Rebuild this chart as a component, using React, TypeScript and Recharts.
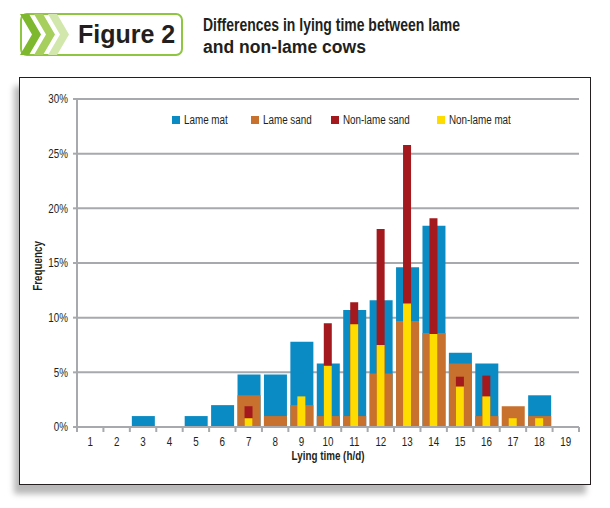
import React from 'react';
import { BarChart, Bar, XAxis, YAxis, CartesianGrid, Legend } from 'recharts';

// ---- Data ----
const hours = [1, 2, 3, 4, 5, 6, 7, 8, 9, 10, 11, 12, 13, 14, 15, 16, 17, 18, 19];
const lameMat = [0, 0, 1.0, 0, 1.0, 2.0, 4.8, 4.8, 7.8, 5.8, 10.7, 11.6, 14.6, 18.4, 6.8, 5.8, 0, 2.9, 0];
const lameSand = [0, 0, 0, 0, 0, 0, 2.9, 1.0, 2.0, 1.0, 1.0, 4.9, 9.7, 8.6, 5.8, 1.0, 1.9, 1.0, 0];
const nonLameSand = [0, 0, 0, 0, 0, 0, 1.9, 0, 0, 9.5, 11.4, 18.1, 25.8, 19.1, 4.6, 4.7, 0, 0, 0];
const nonLameMat = [0, 0, 0, 0, 0, 0, 0.8, 0, 2.8, 5.6, 9.4, 7.5, 11.3, 8.5, 3.7, 2.8, 0.8, 0.8, 0];
const yTicks = [0, 5, 10, 15, 20, 25, 30];

const seriesNames = ['Lame mat', 'Lame sand', 'Non-lame sand', 'Non-lame mat'];
const seriesKeys = ['lameMat', 'lameSand', 'nonLameSand', 'nonLameMat'];
const seriesColors = ['#0b8bc3', '#c8712e', '#a3191e', '#ffdc00'];

const data = hours.map((h, i) => ({
  x: h,
  lameMat: lameMat[i],
  lameSand: lameSand[i],
  nonLameSand: nonLameSand[i],
  nonLameMat: nonLameMat[i],
}));

// ---- Layout / style ----
const W = 610;
const H = 508;
const M_TOP = 99;
const M_RIGHT = 31;
const Y_AXIS_W = 77;
const X_AXIS_H = 30;
const M_BOTTOM = 51;
const PLOT_W = W - Y_AXIS_W - M_RIGHT;
const BAND = PLOT_W / hours.length;
const GRAY = '#a7a9ac';
const TEXT = '#231f20';
const FONT = "'Liberation Sans', Arial, sans-serif";
const SQUEEZE = 0.82;
const TICK_SIZE = 5;
const TICK_MARGIN = 5;

const barSizes = [23, 23, 8, 8];
const axisIds = [0, 'b', 'c', 'd'];
const legendLefts = [172, 251, 331, 437];

function Narrow(props: { x: number; y: number; anchor: string; bold?: boolean; size?: number; rotate?: number; dy?: string; children: any }) {
  const { x, y, anchor, bold, size = 12, rotate = 0, dy = '0', children } = props;
  return (
    <g transform={`translate(${x},${y}) rotate(${rotate}) scale(${SQUEEZE},1)`}>
      <text x={0} y={0} dy={dy} textAnchor={anchor} fill={TEXT} fontSize={size} fontFamily={FONT} fontWeight={bold ? 'bold' : 'normal'}>
        {children}
      </text>
    </g>
  );
}

function XTick(props: any) {
  const { x, y, payload, index } = props;
  const axisY = y - TICK_SIZE - TICK_MARGIN;
  return (
    <g>
      <line x1={x - BAND / 2} x2={x - BAND / 2} y1={axisY} y2={axisY + TICK_SIZE} stroke={GRAY} strokeWidth={2} />
      {index === hours.length - 1 && (
        <line x1={x + BAND / 2} x2={x + BAND / 2} y1={axisY} y2={axisY + TICK_SIZE} stroke={GRAY} strokeWidth={2} />
      )}
      <Narrow x={x} y={y} anchor="middle" dy="0.71em">{payload.value}</Narrow>
    </g>
  );
}

function YTick(props: any) {
  const { x, y, payload } = props;
  return <Narrow x={x} y={y} anchor="end" dy="0.355em">{`${payload.value}%`}</Narrow>;
}

function XLabel(props: any) {
  const vb = props.viewBox || {};
  return (
    <Narrow x={vb.x + vb.width / 2} y={vb.y + 32.5} anchor="middle" bold>
      Lying time (h/d)
    </Narrow>
  );
}

function YLabel(props: any) {
  const vb = props.viewBox || {};
  return (
    <Narrow x={42} y={vb.y + vb.height / 2 + 3} anchor="middle" bold rotate={-90}>
      Frequency
    </Narrow>
  );
}

function LegendContent() {
  return (
    <div style={{ position: 'relative', width: W, height: 16, fontFamily: FONT, fontSize: 12, color: TEXT }}>
      {seriesNames.map((name, i) => (
        <div key={name} style={{ position: 'absolute', left: legendLefts[i], top: 0, display: 'flex', alignItems: 'center', whiteSpace: 'nowrap' }}>
          <span style={{ display: 'inline-block', width: 8, height: 8, background: seriesColors[i], marginRight: 4 }} />
          <span style={{ lineHeight: '16px', display: 'inline-block', transform: `scaleX(${SQUEEZE})`, transformOrigin: 'left center' }}>{name}</span>
        </div>
      ))}
    </div>
  );
}

function Header() {
  const top = 14;
  const bottom = 55;
  const mid = (top + bottom) / 2;
  const chevron = (x0: number, color: string) => {
    const w = 9;
    const d = 12;
    const pts = [
      [x0, top], [x0 + w, top], [x0 + w + d, mid], [x0 + w, bottom], [x0, bottom], [x0 + d, mid],
    ].map((p) => p.join(',')).join(' ');
    return <polygon points={pts} fill={color} />;
  };
  return (
    <svg width={W} height={70} style={{ position: 'absolute', left: 0, top: 0 }}>
      <rect x={21} y={top} width={161} height={bottom - top} rx={6} ry={6} fill="#ffffff" stroke="#8dc63f" strokeWidth={2} />
      {chevron(20, '#7db82e')}
      {chevron(34, '#a6cf5e')}
      {chevron(48, '#d2e7ac')}
      <text x={78} y={43} fontFamily={FONT} fontWeight="bold" fontSize={25} fill={TEXT}>
        Figure 2
      </text>
      <text x={203} y={30.5} fontFamily={FONT} fontWeight="bold" fontSize={18} fill={TEXT} textLength={257} lengthAdjust="spacingAndGlyphs">
        Differences in lying time between lame
      </text>
      <text x={203} y={53} fontFamily={FONT} fontWeight="bold" fontSize={18} fill={TEXT} textLength={163} lengthAdjust="spacingAndGlyphs">
        and non-lame cows
      </text>
    </svg>
  );
}

export default function App() {
  return (
    <div style={{ position: 'absolute', left: 0, top: 0, width: W, height: H, background: '#ffffff', overflow: 'hidden' }}>
      <Header />
      <div
        style={{
          position: 'absolute',
          left: 19,
          top: 77,
          width: 572,
          height: 408,
          boxSizing: 'border-box',
          border: `1.5px solid ${TEXT}`,
          background: '#ffffff',
          boxShadow: '-5px 9px 6px rgba(0,0,0,0.28)',
        }}
      />
      <div style={{ position: 'absolute', left: 0, top: 0 }}>
        <BarChart
          width={W}
          height={H}
          data={data}
          margin={{ top: M_TOP, right: M_RIGHT, left: 0, bottom: M_BOTTOM }}
        >
          <CartesianGrid vertical={false} stroke={GRAY} strokeWidth={2} />
          <XAxis
            dataKey="x"
            xAxisId={0}
            height={X_AXIS_H}
            axisLine={{ stroke: GRAY, strokeWidth: 2 }}
            tickLine={false}
            tickSize={TICK_SIZE}
            tickMargin={TICK_MARGIN}
            interval={0}
            tick={<XTick />}
            label={<XLabel />}
          />
          <XAxis dataKey="x" xAxisId="b" hide />
          <XAxis dataKey="x" xAxisId="c" hide />
          <XAxis dataKey="x" xAxisId="d" hide />
          <YAxis
            width={Y_AXIS_W}
            domain={[0, 30]}
            ticks={yTicks}
            interval={0}
            axisLine={{ stroke: GRAY, strokeWidth: 2 }}
            tickLine={{ stroke: GRAY, strokeWidth: 2 }}
            tickSize={4}
            tickMargin={5}
            tick={<YTick />}
            label={<YLabel />}
          />
          <Legend
            layout="horizontal"
            verticalAlign="middle"
            align="center"
            content={<LegendContent />}
            wrapperStyle={{ top: 112, left: 0, width: W, height: 16 }}
          />
          {seriesKeys.map((k, i) => (
            <Bar
              key={k}
              dataKey={k}
              name={seriesNames[i]}
              fill={seriesColors[i]}
              xAxisId={axisIds[i]}
              barSize={barSizes[i]}
              isAnimationActive={false}
            />
          ))}
        </BarChart>
      </div>
    </div>
  );
}
